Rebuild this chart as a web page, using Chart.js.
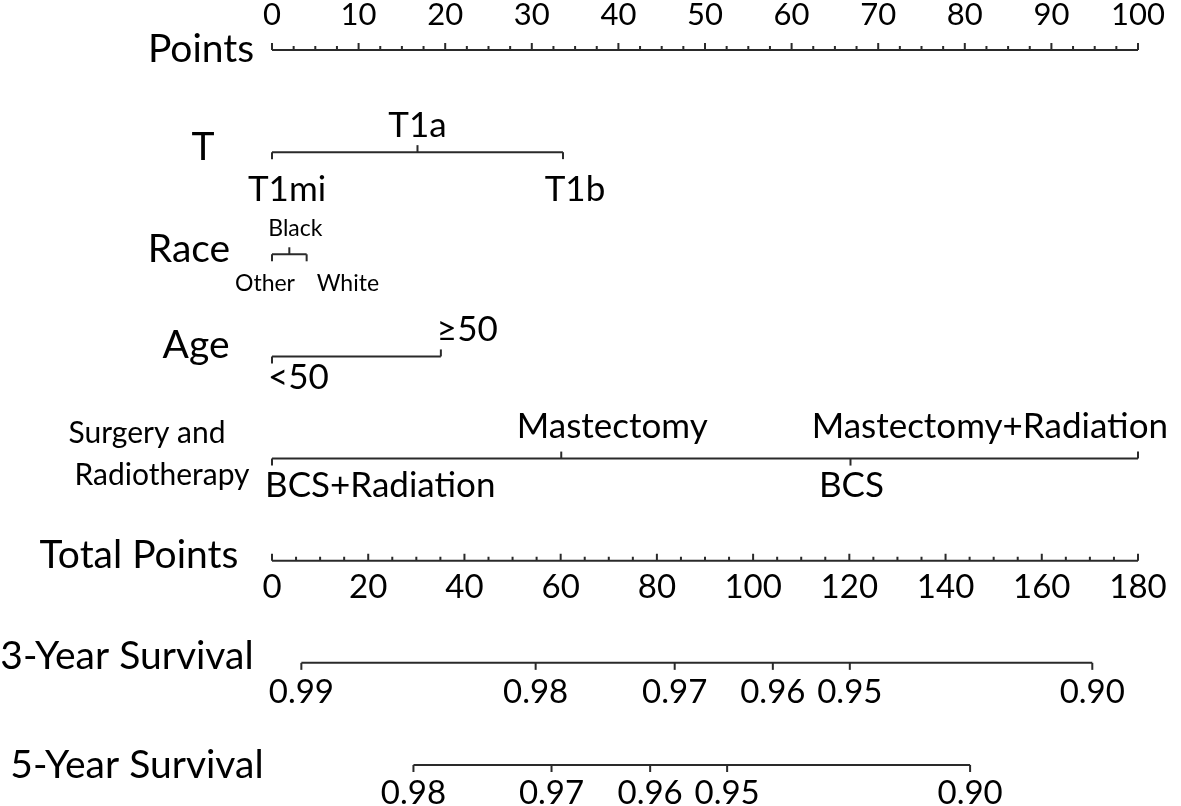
<!DOCTYPE html>
<html>
<head>
<meta charset="utf-8">
<script src="https://cdn.jsdelivr.net/npm/chart.js@4.4.1/dist/chart.umd.min.js"></script>
<style>
html, body { margin: 0; padding: 0; background: #fff; }
#wrap { width: 1181px; height: 806px; }
</style>
</head>
<body>
<div id="wrap"><canvas id="nomogram" width="1181" height="806"></canvas></div>
<script>
// scale ticks
const pointsTicks = [0, 10, 20, 30, 40, 50, 60, 70, 80, 90, 100];
const totalTicks = [0, 20, 40, 60, 80, 100, 120, 140, 160, 180];

// predictors: levels and their points
const tLevels = ['T1mi', 'T1a', 'T1b'];
const tPoints = [0, 16.8, 33.6];
const raceLevels = ['Other', 'Black', 'White'];
const racePoints = [0, 2, 4];
const ageLevels = ['<50', '≥50'];
const agePoints = [0, 19.5];
const surgeryLevels = ['BCS+Radiation', 'Mastectomy', 'BCS', 'Mastectomy+Radiation'];
const surgeryPoints = [0, 33.4, 66.8, 100];

// survival probability vs total points
const surv3Labels = ['0.99', '0.98', '0.97', '0.96', '0.95', '0.90'];
const surv3Total = [6.1, 54.8, 83.7, 104.1, 120.1, 170.5];
const surv5Labels = ['0.98', '0.97', '0.96', '0.95', '0.90'];
const surv5Total = [29.4, 58.1, 78.6, 94.6, 145.1];

const rowTitles = ['Points', 'T', 'Race', 'Age', ['Surgery and', 'Radiotherapy'],
                   'Total Points', '3-Year Survival', '5-Year Survival'];

// ---- look & placement ----
const FONT = 'Lato, "Open Sans", sans-serif';
const LINE = '#2a2a2a';

// title: center x per line, baselines, font size
const titleStyle = [
  { x: [201], base: [62], size: 39 },
  { x: [203], base: [160], size: 39 },
  { x: [189], base: [262], size: 39 },
  { x: [196], base: [358], size: 39 },
  { x: [147, 162], base: [443, 485], size: 30 },
  { x: [139], base: [568], size: 39 },
  { x: [127], base: [669], size: 39 },
  { x: [137], base: [778], size: 39 }
];

// label placement per level: [align, dx, baseline dy]; tick goes toward the label
const tPlace = [['center', 15, 49], ['center', 0, -15], ['center', 12, 49]];
const racePlace = [['center', -7, 37], ['center', 6, -18], ['left', 10, 37]];
const agePlace = [['left', -4, 33], ['left', -4, -15]];
const surgeryPlace = [['left', -7, 38], ['center', 51, -21], ['center', 1, 38], ['right', 30, -21]];

function survPlace(n, dy) {
  return Array.from({ length: n }, () => ['center', 0, dy]);
}

const levelRows = [
  { row: 1, scale: 'x', values: tPoints, labels: tLevels, place: tPlace, size: 35 },
  { row: 2, scale: 'x', values: racePoints, labels: raceLevels, place: racePlace, size: 23 },
  { row: 3, scale: 'x', values: agePoints, labels: ageLevels, place: agePlace, size: 35 },
  { row: 4, scale: 'x', values: surgeryPoints, labels: surgeryLevels, place: surgeryPlace, size: 35 },
  { row: 6, scale: 'xt', values: surv3Total, labels: surv3Labels, place: survPlace(surv3Labels.length, 40), size: 33 },
  { row: 7, scale: 'xt', values: surv5Total, labels: surv5Labels, place: survPlace(surv5Labels.length, 39), size: 33 }
];

const axisRows = [
  { row: 0, scale: 'x', ticks: pointsTicks, minor: 2.5, labelDy: -25, size: 31 },
  { row: 5, scale: 'xt', ticks: totalTicks, minor: 5, labelDy: 37, size: 33 }
];

function rowLine(row, scaleId, vals) {
  return {
    data: [{ x: Math.min(...vals), y: row }, { x: Math.max(...vals), y: row }],
    xAxisID: scaleId,
    showLine: true,
    borderColor: LINE,
    borderWidth: 2,
    pointRadius: 0,
    clip: false
  };
}

const datasets = axisRows.map(a => rowLine(a.row, a.scale, a.ticks))
  .concat(levelRows.map(r => rowLine(r.row, r.scale, r.values)));

const nomogramPlugin = {
  id: 'nomogram',
  afterDatasetsDraw(chart) {
    const ctx = chart.ctx;
    const yScale = chart.scales.y;
    ctx.save();
    ctx.strokeStyle = LINE;
    ctx.fillStyle = '#000';
    ctx.lineWidth = 2;
    ctx.textBaseline = 'alphabetic';

    // Points and Total Points axes
    axisRows.forEach(a => {
      const sc = chart.scales[a.scale];
      const py = yScale.getPixelForValue(a.row);
      const lo = a.ticks[0], hi = a.ticks[a.ticks.length - 1];
      const step = a.ticks[1] - a.ticks[0];
      ctx.beginPath();
      for (let v = lo; v <= hi + 1e-9; v += a.minor) {
        const px = sc.getPixelForValue(v);
        const major = Math.abs(v / step - Math.round(v / step)) < 1e-6;
        ctx.moveTo(px, py);
        ctx.lineTo(px, py - (major ? 7 : 4));
      }
      ctx.stroke();
      ctx.font = a.size + 'px ' + FONT;
      ctx.textAlign = 'center';
      a.ticks.forEach(v => {
        ctx.fillText(String(v), sc.getPixelForValue(v), py + a.labelDy);
      });
    });

    // predictor and survival rows
    levelRows.forEach(r => {
      const sc = chart.scales[r.scale];
      const py = yScale.getPixelForValue(r.row);
      ctx.font = r.size + 'px ' + FONT;
      r.values.forEach((v, i) => {
        const px = sc.getPixelForValue(v);
        const [align, dx, dy] = r.place[i];
        ctx.beginPath();
        ctx.moveTo(px, py);
        ctx.lineTo(px, py + (dy < 0 ? -7 : 7));
        ctx.stroke();
        ctx.textAlign = align;
        ctx.fillText(r.labels[i], px + dx, py + dy);
      });
    });

    // row titles
    ctx.textAlign = 'center';
    rowTitles.forEach((t, i) => {
      const st = titleStyle[i];
      ctx.font = st.size + 'px ' + FONT;
      [].concat(t).forEach((line, k) => ctx.fillText(line, st.x[k], st.base[k]));
    });
    ctx.restore();
  }
};

new Chart(document.getElementById('nomogram').getContext('2d'), {
  type: 'scatter',
  data: { datasets: datasets },
  options: {
    responsive: false,
    animation: false,
    events: [],
    layout: { padding: { left: 272, right: 43, top: 50, bottom: 41 } },
    plugins: { legend: { display: false }, tooltip: { enabled: false } },
    scales: {
      x: { type: 'linear', min: 0, max: 100, display: false },
      xt: { type: 'linear', axis: 'x', min: 0, max: 180, display: false },
      y: { type: 'linear', min: 0, max: 7, reverse: true, display: false }
    }
  },
  plugins: [nomogramPlugin]
});
</script>
</body>
</html>
